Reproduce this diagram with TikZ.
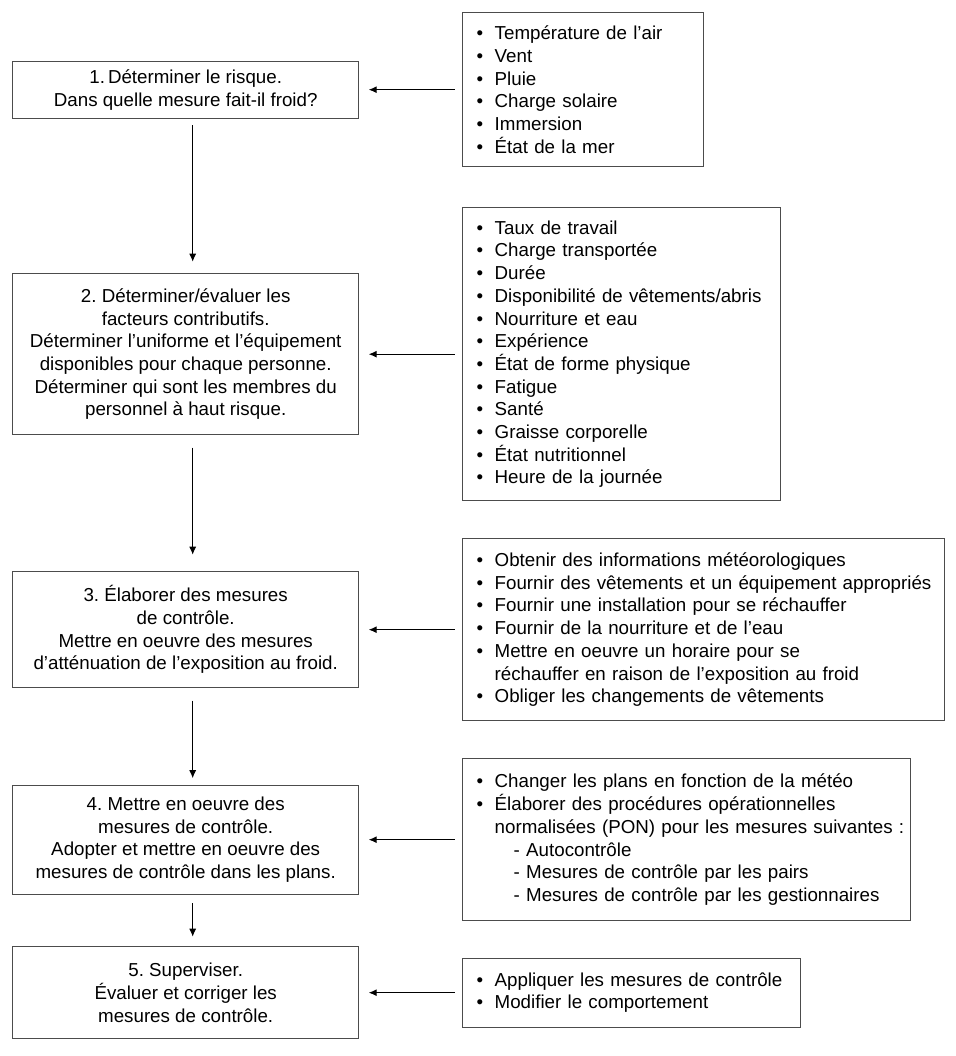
\documentclass[tikz,border=0pt]{standalone}
\usepackage{fontspec}
\setmainfont{Liberation Sans}
\usetikzlibrary{matrix, graphs, arrows.meta}
\frenchspacing

\newcommand{\blt}[1]{\mbox{\makebox[18pt][l]{\textbullet}#1}}
\newcommand{\cnt}[1]{\mbox{\hspace*{18pt}#1}}
\newcommand{\dsh}[1]{\mbox{\hspace*{37pt}- #1}}

\tikzset{
  stepbox/.style={draw=black!70, line width=1pt, align=center, anchor=center, minimum width=346pt,
    inner sep=2pt, outer sep=0pt, font=\fontsize{18.75}{22.7}\selectfont},
  listbox/.style={draw=black!70, line width=1pt, align=left, anchor=west,
    inner xsep=14pt, inner ysep=2pt, outer sep=0pt, font=\fontsize{18.75}{22.7}\selectfont},
  flow/.style={-{Latex[length=8pt,width=7pt]}, line width=1pt}
}

\begin{document}
\begin{tikzpicture}
                \useasboundingbox (0,0) rectangle (955pt,-1056pt);
                \matrix[anchor=north west, row sep=37pt, column sep=103pt, inner sep=0pt] at (12pt,-12pt) {
                    \node[stepbox, minimum height=57pt] (b1) {1.\kern3pt Déterminer le risque.\\Dans quelle mesure fait-il froid?} ; &
                    \node[listbox, text width=213pt, minimum height=154pt] (r1) {\blt{Température de l’air}\\\blt{Vent}\\\blt{Pluie}\\\blt{Charge solaire}\\\blt{Immersion}\\\blt{État de la mer}} ; \\[3pt]
                    \node[stepbox, minimum height=161pt] (b2) {2. Déterminer/évaluer les\\facteurs contributifs.\\Déterminer l’uniforme et l’équipement\\disponibles pour chaque personne.\\Déterminer qui sont les membres du\\personnel à haut risque.} ; &
                    \node[listbox, text width=290pt, minimum height=293pt] (r2) {\blt{Taux de travail}\\\blt{Charge transportée}\\\blt{Durée}\\\blt{Disponibilité de vêtements/abris}\\\blt{Nourriture et eau}\\\blt{Expérience}\\\blt{État de forme physique}\\\blt{Fatigue}\\\blt{Santé}\\\blt{Graisse corporelle}\\\blt{État nutritionnel}\\\blt{Heure de la journée}} ; \\
                    \node[stepbox, minimum height=116pt] (b3) {3. Élaborer des mesures\\de contrôle.\\Mettre en oeuvre des mesures\\d’atténuation de l’exposition au froid.} ; &
                    \node[listbox, text width=454pt, minimum height=182pt] (r3) {\blt{Obtenir des informations météorologiques}\\\blt{Fournir des vêtements et un équipement appropriés}\\\blt{Fournir une installation pour se réchauffer}\\\blt{Fournir de la nourriture et de l’eau}\\\blt{Mettre en oeuvre un horaire pour se}\\\cnt{réchauffer en raison de l’exposition au froid}\\\blt{Obliger les changements de vêtements}} ; \\
                    \node[stepbox, minimum height=109pt] (b4) {4. Mettre en oeuvre des\\mesures de contrôle.\\Adopter et mettre en oeuvre des\\mesures de contrôle dans les plans.} ; &
                    \node[listbox, text width=420pt, minimum height=162pt] (r4) {\blt{Changer les plans en fonction de la météo}\\\blt{Élaborer des procédures opérationnelles}\\\cnt{normalisées (PON) pour les mesures suivantes :}\\\dsh{Autocontrôle}\\\dsh{Mesures de contrôle par les pairs}\\\dsh{Mesures de contrôle par les gestionnaires}} ; \\[-12pt]
                    \node[stepbox, minimum height=92pt] (b5) {5. Superviser.\\Évaluer et corriger les\\mesures de contrôle.} ; &
                    \node[listbox, text width=310pt, minimum height=69pt] (r5) {\blt{Appliquer les mesures de contrôle}\\\blt{Modifier le comportement}} ; \\
                } ;
                \graph[use existing nodes, edges={flow, shorten <=8pt, shorten >=10pt}]{
                    r1 -> b1 ;
                    r2 -> b2 ;
                    r3 -> b3 ;
                    r4 -> b4 ;
                    r5 -> b5 ;
                } ;
                \foreach \a/\b/\s/\e in {b1/b2/7pt/12pt, b2/b3/13pt/17pt, b3/b4/13pt/7pt, b4/b5/9pt/10pt}
                    \draw[flow, shorten <=\s, shorten >=\e] ([xshift=7pt]\a.south) -- ([xshift=7pt]\b.north) ;
            \end{tikzpicture}
\end{document}
